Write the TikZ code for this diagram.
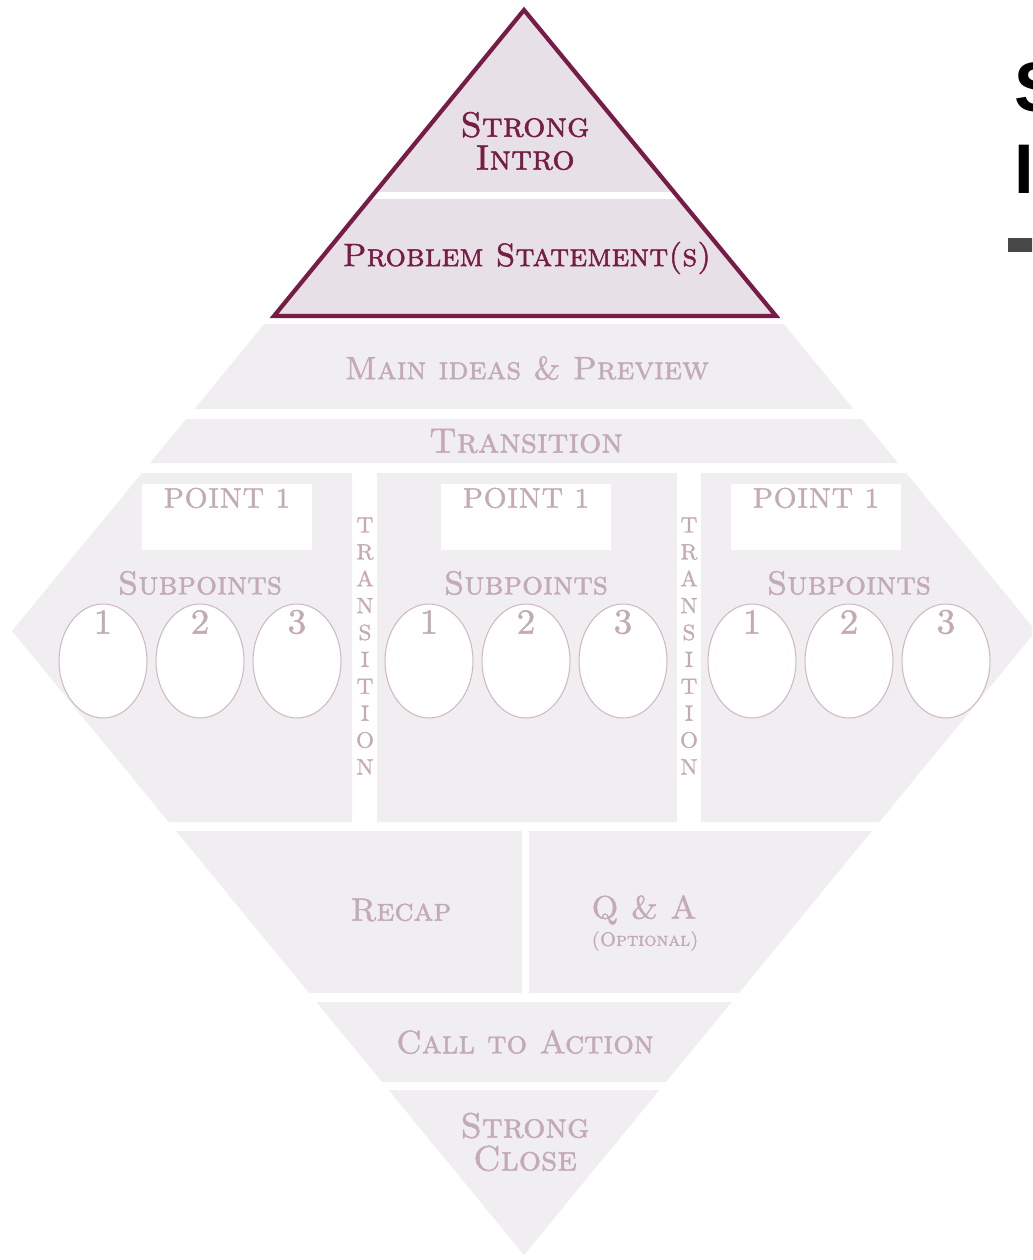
\documentclass[tikz,border=0pt]{standalone}
\usepackage{fontspec}
\usetikzlibrary{shapes.geometric}
\newfontfamily\titlefont{Liberation Sans}
\newfontfamily\capfont{lmromancaps10-regular.otf}[FakeBold=1.4]
\definecolor{wine}{RGB}{118,28,70}
\definecolor{trifill}{RGB}{231,225,231}
\definecolor{bandfill}{RGB}{240,238,240}
\definecolor{pale}{RGB}{196,170,182}
\definecolor{ringline}{RGB}{206,186,196}
\newcommand{\lblsize}{\fontsize{18.4}{18.7}\selectfont}

\begin{document}
\begin{tikzpicture}[x=0.02cm,y=-0.02cm,
	lbl/.style={text=pale,font=\capfont\lblsize,inner sep=0pt,align=center},
	toplbl/.style={lbl,text=wine},
	subring/.style={ellipse,draw=ringline,fill=white,line width=0.6pt,minimum width=1.76cm,minimum height=2.28cm,inner sep=0pt},
	ptbox/.style={fill=white,minimum width=3.4cm,minimum height=1.32cm,inner sep=0pt},
	vert/.style={text=pale,font=\capfont\fontsize{12.5}{15.3}\selectfont,align=center,inner sep=0pt}]
	\useasboundingbox (0,0) rectangle (1032,1260);
	\clip (0,0) rectangle (1032,1260);

	\begin{scope}
		\clip (524,8)--(12,631)--(524,1255)--(1036,631)--cycle;
		\fill[bandfill] (0,324) rectangle (1040,409) (0,419) rectangle (1040,463);
		\fill[bandfill] (0,473) rectangle (352,822) (377,473) rectangle (677,822) (701,473) rectangle (1040,822);
		\fill[bandfill] (0,831) rectangle (522,993) (529,831) rectangle (1040,993);
		\fill[bandfill] (0,1002) rectangle (1040,1082) (0,1090) rectangle (1040,1260);
	\end{scope}
	\begin{scope}
		\clip (524,8)--(273,318)--(777,318)--cycle;
		\fill[trifill] (0,0) rectangle (1040,318);
		\fill[white] (0,192) rectangle (1040,199);
	\end{scope}
	\draw[wine,line width=2.4pt] (524,10)--(274,316)--(776,316)--cycle;

	\node[toplbl,font=\capfont\fontsize{20}{18.7}\selectfont] (intro) at (525,141) {Strong\\Intro};
	\node[toplbl] (problem) at (527,258) {Problem Statement(s)};
	\node[lbl] (preview) at (527,368) {Main ideas \& Preview};
	\node[lbl,font=\capfont\fontsize{20}{20}\selectfont] (trans) at (526,441) {Transition};

	\foreach \c/\b [count=\i] in {200/227,526/526,849/816}{
		\node[ptbox] (box\i) at (\b,517) {};
		\node[lbl,font=\capfont\fontsize{16}{16}\selectfont] (pt\i) at (\b,498) {POINT 1};
		\node[lbl,font=\capfont\fontsize{18.8}{19}\selectfont] (sub\i) at (\c,583) {Subpoints};
		\foreach \k in {1,2,3}{
			\node[subring] (ring\i\k) at ({\c+(\k-2)*97},661) {};
			\node[lbl,font=\capfont\fontsize{20}{20}\selectfont] (num\i\k) at ({\c+(\k-2)*97},622) {\k};
		}
	}
	\node[vert] (vtrans1) at (365,646) {T\\R\\A\\N\\S\\I\\T\\I\\O\\N};
	\node[vert] (vtrans2) at (689,646) {T\\R\\A\\N\\S\\I\\T\\I\\O\\N};

	\node[lbl] (recap) at (401,910) {Recap};
	\node[lbl] (qa) at (644,910) {Q \& A};
	\node[lbl,font=\capfont\fontsize{11}{12}\selectfont] (optional) at (645,941) {(Optional)};
	\node[lbl,font=\capfont\fontsize{18.5}{18.7}\selectfont] (action) at (525,1042) {Call to Action};
	\node[lbl,font=\capfont\fontsize{20}{18.7}\selectfont] (close) at (525,1142) {Strong\\Close};

	\node[font=\titlefont\bfseries\fontsize{40}{40}\selectfont,anchor=base west,inner sep=0pt] (titleS) at (1014,112) {S};
	\node[font=\titlefont\bfseries\fontsize{40}{40}\selectfont,anchor=base west,inner sep=0pt] (titleI) at (1014,194) {I};
	\fill[black!72] (1008,238) rectangle (1040,252);
\end{tikzpicture}
\end{document}
